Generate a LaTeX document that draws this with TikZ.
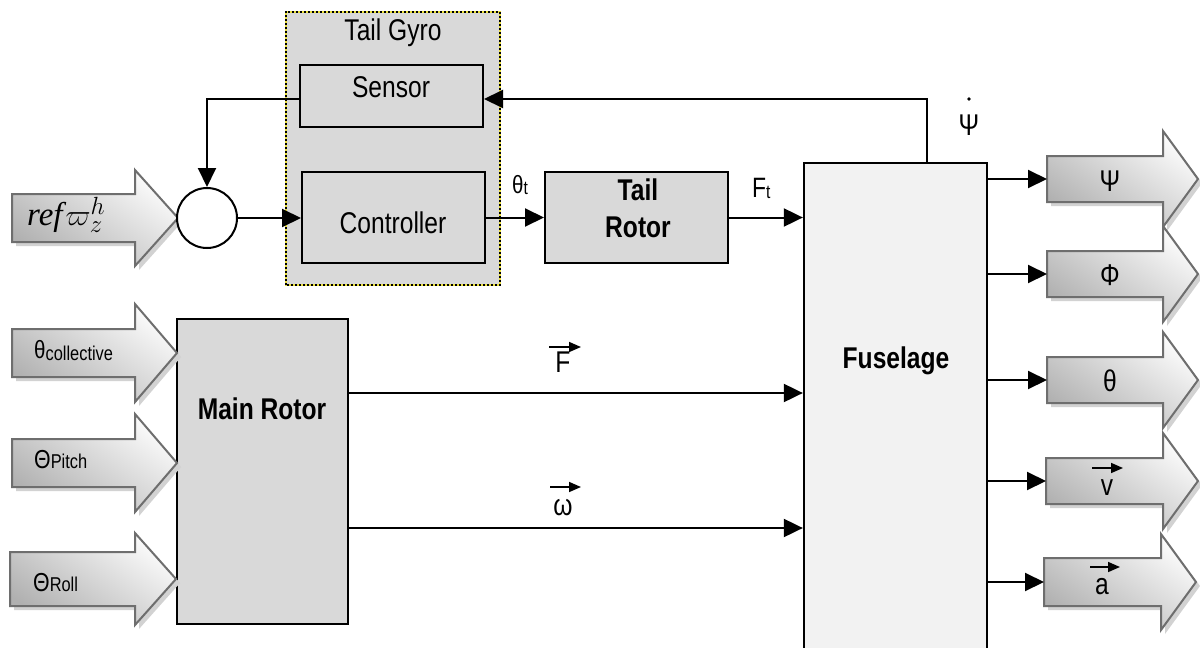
\documentclass[tikz,border=0pt]{standalone}
\usepackage{fontspec}
\setmainfont{Liberation Sans}[FakeStretch=0.82]
\newfontfamily\timesfont{Liberation Serif}
\usetikzlibrary{arrows.meta,calc}
\definecolor{gyroyellow}{RGB}{235,225,60}
\definecolor{arrowborder}{RGB}{110,110,110}
\tikzset{
  box/.style={draw=black, line width=2pt, fill=gray!30, inner sep=0pt},
  lbl/.style={inner sep=0pt, font=\fontsize{30}{36}\selectfont},
  bl/.style={inner sep=0pt, font=\fontsize{30}{36}\selectfont\bfseries},
  conn/.style={line width=2pt, -{Triangle[length=19pt,width=18pt]}},
  vec/.style={line width=1.6pt, -{Triangle[length=12pt,width=10pt]}},
  arrowshade/.style={draw=arrowborder, line width=2pt, top color=gray!3, bottom color=gray!62, shading angle=-35},
  arrowshadow/.style={fill=gray!35},
}
% #1 name, #2 left x, #3 centre y, #4 head start x, #5 tip x, #6 body half height, #7 head half height
\newcommand\blockarrow[7]{%
  \fill[arrowshadow] ({#2+4},{#3-#6+4}) -- ({#4+4},{#3-#6+4}) -- ({#4+4},{#3-#7+4}) -- ({#5+4},{#3+4}) -- ({#4+4},{#3+#7+4}) -- ({#4+4},{#3+#6+4}) -- ({#2+4},{#3+#6+4}) -- cycle;
  \shadedraw[arrowshade] (#2,{#3-#6}) -- (#4,{#3-#6}) -- (#4,{#3-#7}) -- (#5,#3) -- (#4,{#3+#7}) -- (#4,{#3+#6}) -- (#2,{#3+#6}) -- cycle;
  \coordinate (#1) at (#2,#3);
  \coordinate (#1tip) at (#5,#3);
}
\begin{document}
\begin{tikzpicture}[x=1pt,y=-1pt]
\useasboundingbox (0,0) rectangle (1200,648);
\fill[white] (0,0) rectangle (1200,648);

% Tail gyro group
\node[fill=gray!30, minimum width=214pt, minimum height=273pt, inner sep=0pt] (gyro) at (393,148.5) {};
\draw[line width=2pt, gyroyellow] (gyro.south west) rectangle (gyro.north east);
\draw[line width=2pt, black, dash pattern=on 2pt off 2pt] (gyro.south west) rectangle (gyro.north east);
\node[lbl, anchor=base] (gyrotxt) at (393,40) {Tail Gyro};

\node[box, minimum width=183pt, minimum height=62pt] (sensor) at (391.5,96) {};
\node[lbl, anchor=base] (sensortxt) at (391,97) {Sensor};
\node[box, minimum width=183pt, minimum height=91pt] (ctrl) at (393.5,217.5) {};
\node[lbl, anchor=base] (ctrltxt) at (393,233) {Controller};

% Tail rotor
\node[box, minimum width=183pt, minimum height=91pt] (tail) at (636.5,217.5) {};
\node[bl, anchor=base] (tailtxt1) at (638,200) {Tail};
\node[bl, anchor=base] (tailtxt2) at (638,237) {Rotor};

% Main rotor
\node[box, minimum width=171pt, minimum height=305pt] (mr) at (262.5,471.5) {};
\node[bl, anchor=base] (mrtxt) at (262,419) {Main Rotor};

% Fuselage
\node[draw=black, line width=2.3pt, fill=gray!10, minimum width=183pt, minimum height=500pt, inner sep=0pt] (fus) at (895.5,413) {};
\node[bl, anchor=base] (fustxt) at (896,368) {Fuselage};

% summing junction and reference input
\blockarrow{iRef}{12}{218}{135}{178}{24}{48}
\node[inner sep=0pt, anchor=base west] (reflab) at (27,225) {\fontsize{33}{36}\selectfont\timesfont\itshape ref\kern3pt\scalebox{1.2}{\fontsize{24.88}{28}\selectfont$\varpi_z^h$}};
\node[circle, draw=black, line width=2pt, fill=white, minimum size=60pt, inner sep=0pt] (sum) at (207,218) {};

% input arrows
\blockarrow{iCol}{12}{353}{135}{177}{24}{49}
\blockarrow{iPitch}{12}{463}{135}{177}{24}{49}
\blockarrow{iRoll}{10}{579}{135}{176}{27}{46}
\node[inner sep=0pt, anchor=base west] (lCol) at (34,358) {\fontsize{25}{28}\selectfont θ\fontsize{20}{22}\selectfont\raisebox{-2pt}{collective}};
\node[inner sep=0pt, anchor=base west] (lPitch) at (34,468) {\fontsize{26}{28}\selectfont Θ\fontsize{20}{22}\selectfont Pitch};
\node[inner sep=0pt, anchor=base west] (lRoll) at (33,591) {\fontsize{26}{28}\selectfont Θ\fontsize{20}{22}\selectfont Roll};

% output arrows
\blockarrow{oPsi}{1047}{179}{1163}{1198}{23}{48}
\blockarrow{oPhi}{1047}{274}{1163}{1198}{23}{48}
\blockarrow{oTheta}{1047}{380}{1163}{1198}{23}{48}
\blockarrow{oV}{1046}{481}{1163}{1198}{23}{48}
\blockarrow{oA}{1044}{582}{1161}{1196}{24}{48}
\node[lbl, anchor=base] (tPsi) at (1110,191) {Ψ};
\node[lbl, anchor=base] (tPhi) at (1110,285) {Φ};
\node[lbl, anchor=base] (tTheta) at (1110,391) {θ};
\node[lbl, anchor=base] (tV) at (1107,495) {v};
\node[lbl, anchor=base] (tA) at (1102,594) {a};
\draw[vec] (1092,468) -- (1123,468);
\draw[vec] (1090,567) -- (1120,567);

% connectors
\draw[conn] (sum.east) -- (sum.east -| ctrl.west);
\draw[conn] (ctrl.east) -- (ctrl.east -| tail.west);
\draw[conn] (tail.east) -- (tail.east -| fus.west);
\node[inner sep=0pt, anchor=base west] (thetat) at (512,193) {\fontsize{25}{28}\selectfont θ\fontsize{19}{22}\selectfont\raisebox{-1pt}{t}};
\node[inner sep=0pt, anchor=base west] (Ft) at (752,197) {\fontsize{28}{30}\selectfont F\fontsize{19}{22}\selectfont\raisebox{-1pt}{t}};

\coordinate (fb) at (927,99);
\draw[conn] (fb |- fus.north) -- (fb) -- (fb -| sensor.east);
\draw[conn] (sensor.west |- fb) -- (sum |- fb) -- (sum.north);
\node[lbl, anchor=base] (psidot) at (969,135) {Ψ};
\fill (969,99) circle (1.8);

\coordinate (yF) at (0,393);
\coordinate (yW) at (0,528);
\draw[conn] (mr.east |- yF) -- (fus.west |- yF);
\draw[conn] (mr.east |- yW) -- (fus.west |- yW);
\node[lbl, anchor=base] (Flab) at (563,372) {F};
\draw[vec] (549,347) -- (581,347);
\node[lbl, anchor=base] (wlab) at (563,515) {ω};
\draw[vec] (550,487) -- (581,487);

\draw[conn] (fus.east |- oPsi) -- (oPsi);
\draw[conn] (fus.east |- oPhi) -- (oPhi);
\draw[conn] (fus.east |- oTheta) -- (oTheta);
\draw[conn] (fus.east |- oV) -- (oV);
\draw[conn] (fus.east |- oA) -- (oA);
\end{tikzpicture}
\end{document}
